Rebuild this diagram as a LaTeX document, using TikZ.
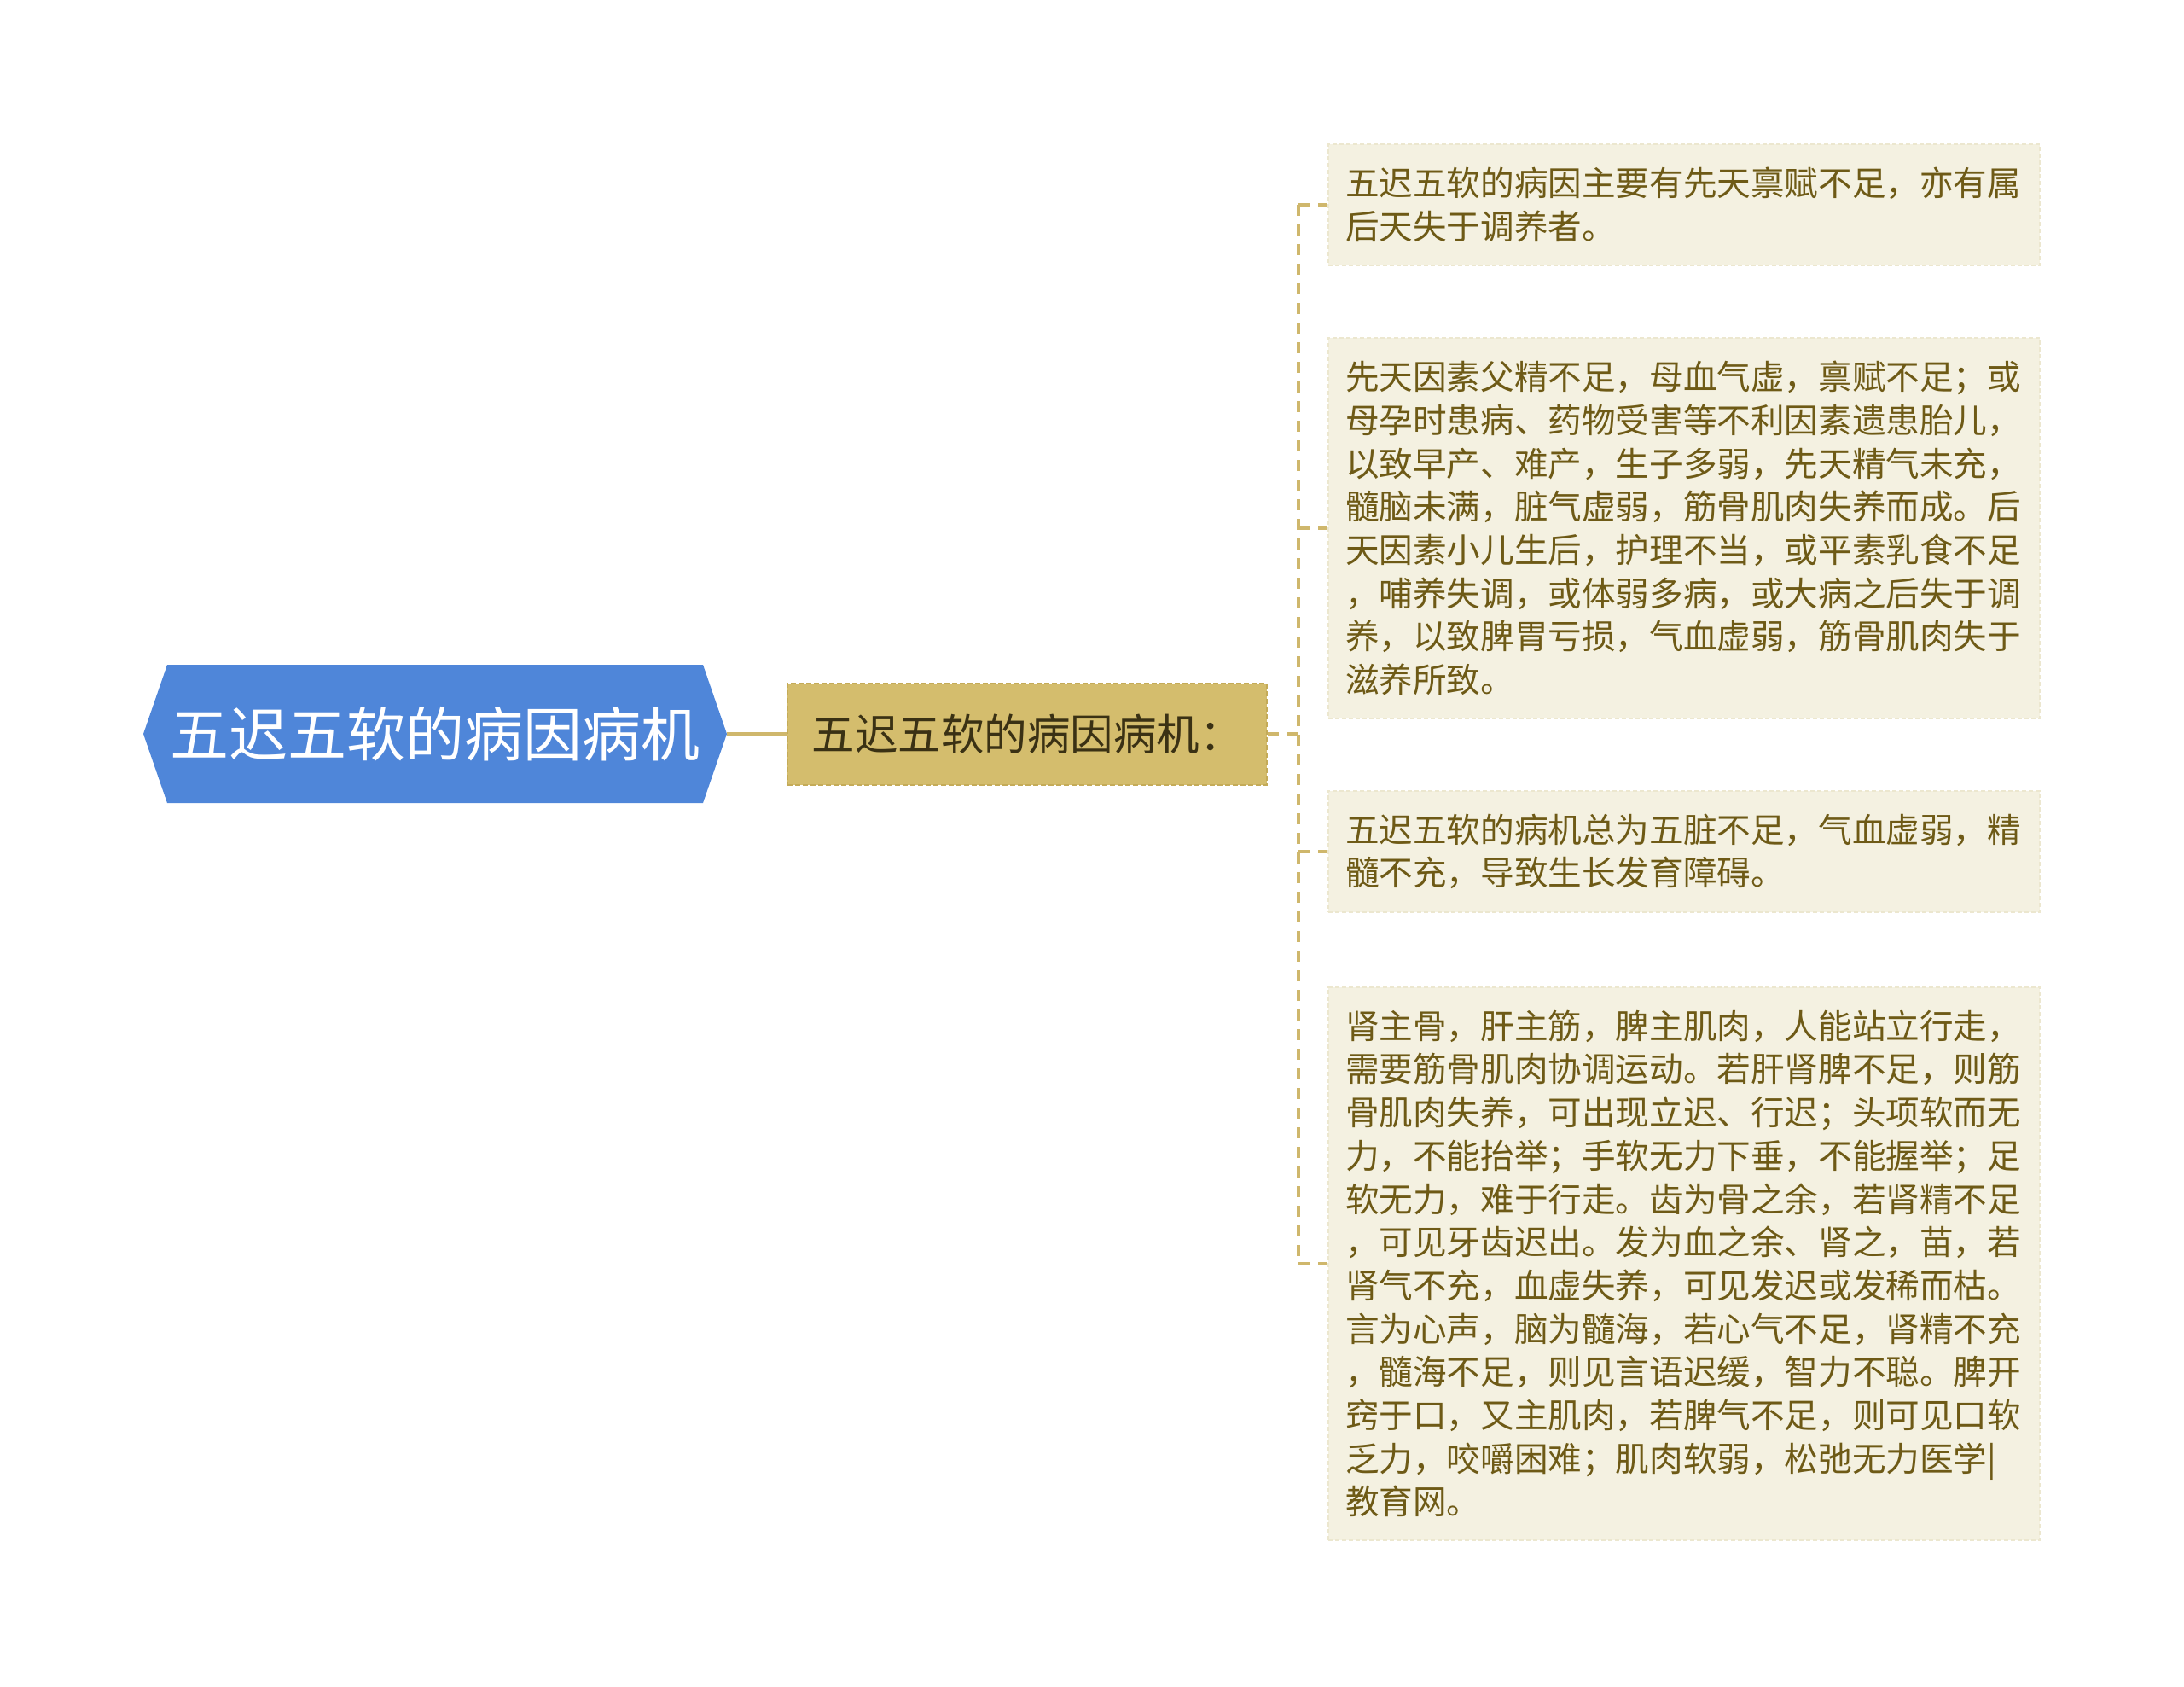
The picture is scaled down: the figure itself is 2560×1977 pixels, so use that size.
\documentclass[tikz,border=0pt]{standalone}
\usepackage{fontspec}
\setmainfont{Noto Sans CJK SC}
\usepackage{tikz}
\usetikzlibrary{positioning}
\definecolor{rootblue}{HTML}{4F86D9}
\definecolor{midtan}{HTML}{D4BD6D}
\definecolor{midedge}{HTML}{C4AB58}
\definecolor{midtext}{HTML}{3A3114}
\definecolor{leafbg}{HTML}{F4F1E1}
\definecolor{leafedge}{HTML}{ECE7CF}
\definecolor{leaftext}{HTML}{6E5A16}
\definecolor{linktan}{HTML}{CFB76C}

\begin{document}
\begin{tikzpicture}[x=1pt,y=-1pt,
    leaf/.style={anchor=west,fill=leafbg,draw=leafedge,dash pattern=on 5pt off 3pt,
      line width=2pt,text=leaftext,text width=794pt,align=left,inner xsep=20pt,
      inner ysep=27pt,font=\fontsize{39.6pt}{50.7pt}\selectfont},
    link/.style={draw=linktan,line width=5pt},
    dashlink/.style={draw=linktan,line width=3.5pt,dash pattern=on 13pt off 10pt}]
  \useasboundingbox (0,0) rectangle (2560,1977);
  \fill[rootblue] (168,860) -- (196,779) -- (824,779) -- (852,860) -- (824,941)
    -- (196,941) -- cycle;
  \node[minimum width=684pt,minimum height=162pt,text=white,
    font=\fontsize{69pt}{80pt}\selectfont] (root) at (510,860) {五迟五软的病因病机};
  \node[right=70pt of root,minimum width=562pt,minimum height=119pt,fill=midtan,
    draw=midedge,dash pattern=on 6pt off 3pt,line width=2pt,text=midtext,
    font=\fontsize{50.5pt}{60pt}\selectfont] (mid) {五迟五软的病因病机：};
  \draw[link] (root) -- (mid);
  \node[leaf] (l1) at (1556,240) {五迟五软的病因主要有先天禀赋不足，亦有属\\
    后天失于调养者。};
  \node[leaf] (l2) at (1556,619) {先天因素父精不足，母血气虚，禀赋不足；或\\
    母孕时患病、药物受害等不利因素遗患胎儿，\\
    以致早产、难产，生子多弱，先天精气未充，\\
    髓脑未满，脏气虚弱，筋骨肌肉失养而成。后\\
    天因素小儿生后，护理不当，或平素乳食不足\\
    ，哺养失调，或体弱多病，或大病之后失于调\\
    养，以致脾胃亏损，气血虚弱，筋骨肌肉失于\\
    滋养所致。};
  \node[leaf] (l3) at (1556,998) {五迟五软的病机总为五脏不足，气血虚弱，精\\
    髓不充，导致生长发育障碍。};
  \node[leaf] (l4) at (1556,1481) {肾主骨，肝主筋，脾主肌肉，人能站立行走，\\
    需要筋骨肌肉协调运动。若肝肾脾不足，则筋\\
    骨肌肉失养，可出现立迟、行迟；头项软而无\\
    力，不能抬举；手软无力下垂，不能握举；足\\
    软无力，难于行走。齿为骨之余，若肾精不足\\
    ，可见牙齿迟出。发为血之余、肾之，苗，若\\
    肾气不充，血虚失养，可见发迟或发稀而枯。\\
    言为心声，脑为髓海，若心气不足，肾精不充\\
    ，髓海不足，则见言语迟缓，智力不聪。脾开\\
    窍于口，又主肌肉，若脾气不足，则可见口软\\
    乏力，咬嚼困难；肌肉软弱，松弛无力医学|\\
    教育网。};
  \coordinate (trunk) at (1522,860);
  \draw[dashlink] (mid.east) -- (trunk);
  \draw[dashlink] (trunk |- l1.west) -- (trunk |- l4.west);
  \foreach \n in {l1,l2,l3,l4}
    \draw[dashlink] (trunk |- \n.west) -- (\n.west);
\end{tikzpicture}
\end{document}
